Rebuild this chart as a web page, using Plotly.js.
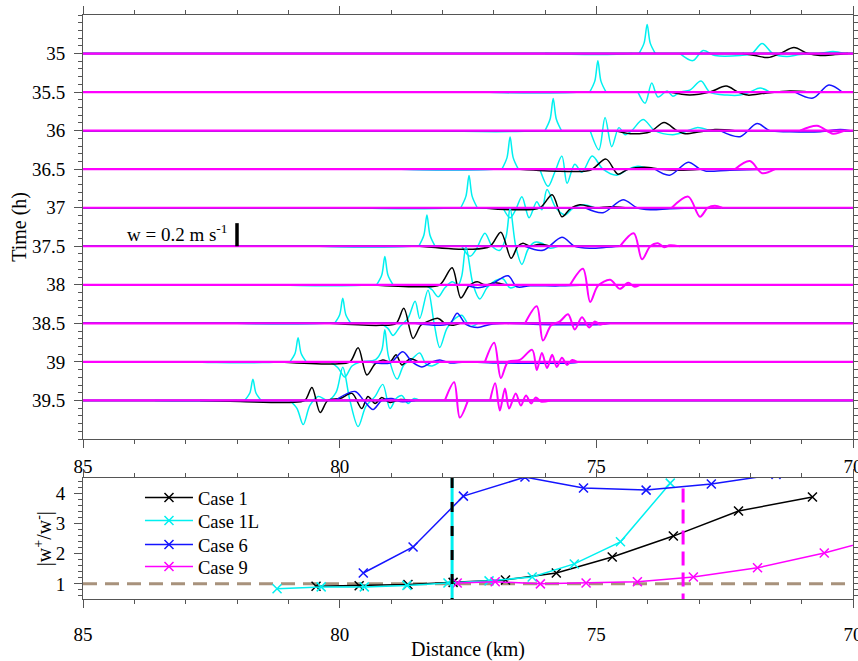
<!DOCTYPE html>
<html><head><meta charset="utf-8">
<script src="https://cdn.plot.ly/plotly-3.0.1.min.js"></script>
<style>html,body{margin:0;padding:0;background:#fff}#chart{width:858px;height:661px}</style>
</head><body><div id="chart"></div>
<script>
// ---------- DATA ----------
const times = [35, 35.5, 36, 36.5, 37, 37.5, 38, 38.5, 39, 39.5];
const timeTickLabels = ['35', '35.5', '36', '36.5', '37', '37.5', '38', '38.5', '39', '39.5'];
const distTicks = [85, 80, 75, 70];
const ratioTicks = [1, 2, 3, 4];
const wScale = 1.5; // hours of offset per 1 m/s of w

// scale bar: w = 0.2 m/s
const scaleBarKm = 82.0, scaleBarW = 0.2, scaleBarT = 37.5;

// [distance km, w m/s] key points of each trace at each time
const case1LWaves = [
 [[76.0,0],[75.5,-0.006],[74.6,-0.006],[74.3,0],[74.17,0],[74.07,0.09],[74.01,0.252],[73.95,0.09],[73.85,0],[73.37,0],[73.12,-0.061],[72.92,0.026],[72.69,-0.017],[72.20,-0.017],[71.97,0],[71.77,0.087],[71.56,0],[71.29,-0.026],[71.03,-0.009],[70.64,0],[70.39,0.017],[70.16,0]],
 [[77.2,0],[76.8,-0.006],[75.6,-0.006],[75.3,0],[75.13,0],[75.03,0.095],[74.97,0.27],[74.91,0.095],[74.81,0],[74.19,0],[74.05,-0.096],[73.92,0.078],[73.80,-0.043],[73.62,0.009],[73.51,-0.035],[73.37,0],[73.18,0.017],[72.96,0.096],[72.79,0],[72.45,-0.026],[72.20,-0.026],[72.01,0],[71.81,0.035],[71.62,0]],
 [[78.0,0],[77.6,-0.006],[76.4,-0.006],[76.1,0],[76.0,0],[75.9,0.1],[75.84,0.278],[75.78,0.1],[75.68,0],[75.12,0],[74.95,-0.165],[74.83,0.113],[74.70,-0.139],[74.56,0.026],[74.44,-0.035],[74.31,0],[74.09,0.096],[73.86,0],[73.51,-0.035],[73.27,-0.009],[73.04,0.026],[72.79,0]],
 [[78.8,0],[78.4,-0.006],[77.3,-0.006],[77.0,0],[76.84,0],[76.74,0.1],[76.68,0.278],[76.62,0.1],[76.52,0],[76.10,0],[75.94,-0.148],[75.81,-0.026],[75.67,0.113],[75.57,-0.122],[75.42,0.043],[75.28,-0.026],[75.08,0.113],[74.87,0],[74.60,-0.052],[74.38,0],[74.19,0.026],[73.95,0]],
 [[79.6,0],[79.2,-0.006],[78.1,-0.006],[77.8,0],[77.64,0],[77.54,0.1],[77.48,0.278],[77.42,0.1],[77.32,0],[76.82,0],[76.68,-0.087],[76.57,-0.017],[76.45,0.096],[76.31,-0.087],[76.16,0.052],[76.06,-0.017],[75.96,0.157],[75.79,0],[75.61,-0.061],[75.47,-0.009],[75.26,0.026],[75.03,0]],
 [[80.4,0],[80.0,-0.006],[78.9,-0.006],[78.6,0],[78.46,0],[78.36,0.095],[78.30,0.27],[78.24,0.095],[78.14,0],[77.62,0],[77.46,-0.087],[77.34,-0.026],[77.17,0.113],[77.03,0],[76.88,-0.035],[76.76,0.08],[76.68,0.33],[76.57,0],[76.45,-0.157],[76.33,-0.026],[76.20,0.035],[76.06,0.026],[75.90,-0.017],[75.75,0]],
 [[81.2,0],[80.8,-0.006],[79.7,-0.006],[79.4,0],[79.28,0],[79.18,0.085],[79.12,0.244],[79.06,0.085],[78.96,0],[78.34,0],[78.20,-0.043],[78.08,-0.104],[77.95,-0.026],[77.81,0.026],[77.69,0],[77.62,0.08],[77.54,0.33],[77.40,0],[77.27,-0.122],[77.13,-0.026],[76.97,0.035],[76.82,0.052],[76.68,-0.026],[76.53,0]],
 [[82.0,0],[81.6,-0.006],[80.6,-0.006],[80.3,0],[80.10,0],[80.0,0.075],[79.94,0.217],[79.88,0.075],[79.78,0],[79.21,0],[79.06,-0.043],[78.96,-0.104],[78.82,-0.026],[78.67,0.043],[78.53,0.191],[78.44,0.043],[78.28,0.287],[78.16,0],[78.05,-0.209],[77.91,-0.043],[77.75,0.043],[77.62,0.07],[77.46,-0.026],[77.31,0]],
 [[82.8,0],[82.4,-0.006],[81.5,-0.006],[81.2,0],[80.97,0],[80.87,0.072],[80.81,0.209],[80.75,0.072],[80.65,0],[80.19,0],[80.03,-0.052],[79.90,-0.13],[79.76,-0.035],[79.60,0],[79.30,0.02],[79.18,0.1],[79.12,0.278],[79.05,0.05],[78.88,-0.148],[78.75,-0.026],[78.59,0.026],[78.44,0.078],[78.32,-0.017],[78.20,-0.035],[78.05,0]],
 [[83.6,0],[83.2,-0.004],[82.3,-0.004],[82.0,0],[81.85,0],[81.75,0.064],[81.69,0.183],[81.63,0.064],[81.53,0],[80.97,0],[80.83,-0.07],[80.71,-0.209],[80.58,-0.043],[80.42,0.035],[80.23,0],[80.07,0.07],[79.94,0.287],[79.80,0],[79.64,-0.226],[79.49,-0.052],[79.31,0.035],[79.16,0.139],[79.02,-0.07],[78.90,0.017],[78.79,0.043],[78.67,-0.026],[78.55,0.017],[78.44,0]]
];
const case1Waves = [
 [[72.15,0],[71.91,-0.017],[71.66,-0.035],[71.42,0],[71.15,0.052],[70.88,0],[70.64,-0.017],[70.35,-0.009],[70.1,0]],
 [[73.57,0],[73.18,-0.026],[72.79,0],[72.47,0.052],[72.24,0],[72.05,-0.026],[71.71,-0.009],[71.23,0.009],[70.84,0]],
 [[74.64,0],[74.34,-0.026],[73.95,-0.009],[73.68,0.07],[73.43,0],[73.27,-0.026],[72.98,-0.009],[72.69,0.009],[72.30,0]],
 [[76.49,0],[75.71,-0.017],[75.12,-0.009],[74.81,0.087],[74.58,-0.043],[74.38,0],[74.05,0.017],[73.76,0],[73.37,-0.009],[72.98,0]],
 [[77.27,0],[76.68,-0.017],[76.10,0],[75.86,0.113],[75.67,-0.078],[75.51,-0.009],[75.32,0.026],[75.03,0],[74.73,0.009],[74.44,0]],
 [[78.44,0],[77.46,-0.026],[77.07,0],[76.86,0.122],[76.66,-0.104],[76.53,0],[76.43,0.026],[76.29,0],[76.10,0.017],[75.90,0]],
 [[79.41,0],[78.44,-0.017],[78.05,0],[77.81,0.148],[77.64,-0.113],[77.48,-0.009],[77.32,0.026],[77.17,0],[76.97,0.017],[76.78,0]],
 [[80.19,0],[79.21,-0.017],[78.90,0],[78.75,0.13],[78.57,-0.13],[78.42,-0.017],[78.28,0.017],[78.08,0.043],[77.95,0],[77.81,-0.017],[77.66,0]],
 [[81.16,0],[80.09,-0.017],[79.80,0],[79.64,0.122],[79.47,-0.113],[79.31,-0.017],[79.16,0.017],[79.02,0],[78.90,0.061],[78.79,-0.026],[78.63,0.026],[78.47,0]],
 [[82.72,0],[81.94,-0.009],[80.97,-0.017],[80.68,0],[80.54,0.113],[80.38,-0.104],[80.23,0],[79.99,0.017],[79.76,0.061],[79.57,-0.07],[79.45,0.035],[79.31,-0.026],[79.18,0.026],[79.02,-0.017],[78.82,0.009],[78.63,0]]
];
const case6Waves = [
 [],
 [[71.13,0],[70.78,-0.052],[70.47,0.061],[70.21,0]],
 [[72.59,0],[72.20,-0.052],[71.87,0.061],[71.62,0],[71.23,-0.009],[70.64,-0.009],[70.25,0.009],[70.05,0]],
 [[73.86,0],[73.57,-0.052],[73.21,0.061],[72.98,0],[72.86,-0.017],[72.40,-0.009],[71.62,0]],
 [[75.22,0],[74.87,-0.043],[74.48,0.07],[74.21,0],[73.95,-0.017],[73.57,-0.009],[72.98,0]],
 [[76.39,0],[76.04,-0.035],[75.67,0.078],[75.42,0],[75.12,-0.017],[74.81,-0.009],[74.54,0]],
 [[77.56,0],[77.31,-0.026],[77.07,0],[76.72,0.078],[76.55,-0.017],[76.29,-0.009],[75.71,-0.009],[75.12,0]],
 [[78.53,0],[78.05,-0.017],[77.85,0],[77.71,0.087],[77.54,-0.009],[77.31,-0.035],[77.07,-0.009],[76.78,0],[76.10,-0.009],[74.93,-0.009],[74.73,0]],
 [[79.41,0],[79.02,-0.009],[78.77,0.087],[78.59,0],[78.40,-0.043],[78.20,0],[78.05,0.017],[77.85,-0.009],[77.56,0],[76.88,-0.009],[75.51,-0.009],[75.32,0]],
 [[80.09,0],[79.70,0.078],[79.53,0],[79.35,-0.078],[79.18,0],[78.98,0.017],[78.82,-0.009],[78.53,0]]
];
const case9Waves = [
 [],
 [],
 [[71.03,0],[70.70,0.043],[70.39,-0.026],[70.16,0]],
 [[72.30,0],[72.01,0.07],[71.77,-0.035],[71.52,0]],
 [[73.53,0],[73.21,0.096],[72.98,-0.078],[72.83,0],[72.69,0.017],[72.55,0]],
 [[74.54,0],[74.27,0.113],[74.11,-0.113],[73.95,0],[73.80,0.026],[73.68,-0.009],[73.57,0.009],[73.37,0]],
 [[75.51,0],[75.26,0.139],[75.12,-0.148],[74.97,-0.009],[74.73,0.043],[74.54,-0.035],[74.38,0.017],[74.25,-0.017],[74.15,0]],
 [[76.39,0],[76.16,0.148],[76.04,-0.148],[75.88,-0.017],[75.71,0.017],[75.55,0.078],[75.42,-0.052],[75.28,0.052],[75.14,-0.035],[75.03,0.017],[74.93,-0.009],[74.81,0]],
 [[77.17,0],[76.99,0.165],[76.86,-0.139],[76.72,0],[76.49,0.017],[76.25,0.104],[76.16,-0.07],[76.06,0.078],[75.96,-0.052],[75.86,0.061],[75.77,-0.043],[75.67,0.035],[75.57,-0.026],[75.47,0.017],[75.38,0]],
 [[77.95,0],[77.77,0.157],[77.66,-0.148],[77.50,0],[77.07,0],[76.97,0.148],[76.88,-0.087],[76.78,0.104],[76.70,-0.07],[76.57,0.061],[76.47,-0.043],[76.37,0.043],[76.27,-0.026],[76.18,0.026],[76.08,-0.009],[75.90,0]]
];

// lower panel |w+/w-|
const distCase1  = [80.46, 79.62, 78.67, 77.79, 76.77, 75.78, 74.69, 73.50, 72.23, 70.79];
const ratioCase1 = [0.92, 0.94, 0.98, 1.05, 1.13, 1.36, 1.89, 2.58, 3.41, 3.87];
const distCase1L  = [81.22, 80.36, 79.52, 78.69, 77.89, 77.09, 76.25, 75.43, 74.53, 73.56];
const ratioCase1L = [0.84, 0.90, 0.90, 0.95, 1.03, 1.10, 1.23, 1.66, 2.39, 4.33];
const distCase6  = [79.54, 78.57, 77.59, 76.39, 75.25, 74.03, 72.76, 71.5];
const ratioCase6 = [1.36, 2.22, 3.90, 4.53, 4.17, 4.10, 4.30, 4.62];
const distCase9  = [77.71, 76.97, 76.09, 75.20, 74.20, 73.11, 71.86, 70.56, 69.3];
const ratioCase9 = [1.03, 1.07, 1.00, 1.03, 1.07, 1.23, 1.53, 2.02, 2.6];
const refRatio = 1;
const critDistCase1 = 77.81;   // black / cyan vertical line
const critDistCase9 = 73.31;   // magenta vertical line
const critTopCase9 = 4.15;
const caseNames = ['Case 1', 'Case 1L', 'Case 6', 'Case 9'];

// ---------- STYLE ----------
const FONT = 'Liberation Serif, Times New Roman, serif';
const COL = {c1: '#000000', c1L: '#00f0f0', c6: '#1414ff', c9: '#ff00ff'};
const AX = '#555555';

const traces = [];
function baseTrace(t, color, width) {
  return {x: [85, 70], y: [t, t], xaxis: 'x', yaxis: 'y', type: 'scatter', mode: 'lines',
          line: {color, width}, showlegend: false, hoverinfo: 'skip'};
}
function waveTrace(pts, t, color, width) {
  // smooth each wave packet separately; the flat baseline is drawn by baseTrace
  const x = [], y = [];
  pts.forEach((p, k) => {
    if (k > 0 && p[1] === 0 && pts[k - 1][1] === 0) { x.push(null); y.push(null); }
    x.push(p[0]); y.push(t - p[1] * wScale);
  });
  return {x, y, xaxis: 'x', yaxis: 'y', type: 'scatter', mode: 'lines', connectgaps: false,
          line: {color, width, shape: 'spline', smoothing: 0.9}, showlegend: false, hoverinfo: 'skip'};
}
times.forEach((t, i) => {
  traces.push(baseTrace(t, COL.c1L, 1.5), waveTrace(case1LWaves[i], t, COL.c1L, 1.5));
  traces.push(baseTrace(t, COL.c1, 1.5), waveTrace(case1Waves[i], t, COL.c1, 1.5));
  traces.push(baseTrace(t, COL.c6, 1.5), waveTrace(case6Waves[i], t, COL.c6, 1.5));
});
times.forEach((t, i) => traces.push(baseTrace(t, COL.c9, 2.2), waveTrace(case9Waves[i], t, COL.c9, 2)));

// scale bar
traces.push({x: [scaleBarKm, scaleBarKm], y: [scaleBarT, scaleBarT - scaleBarW * wScale],
  xaxis: 'x', yaxis: 'y', mode: 'lines', line: {color: '#000', width: 3.5}, showlegend: false, hoverinfo: 'skip'});

// lower panel
traces.push({x: [85, 70], y: [refRatio, refRatio], xaxis: 'x2', yaxis: 'y2', mode: 'lines',
  line: {color: '#a8927c', width: 3, dash: '14px,8px'}, showlegend: false, hoverinfo: 'skip'});
function caseTrace(x, y, name, color, legendId) {
  return {x, y, name, legend: legendId, xaxis: 'x2', yaxis: 'y2', type: 'scatter', mode: 'lines+markers',
    line: {color, width: 1.5}, marker: {symbol: 'x-thin', size: 9, color, line: {color, width: 1.5}}};
}
traces.push(caseTrace(distCase1, ratioCase1, caseNames[0], COL.c1, 'legend'));
traces.push(caseTrace(distCase1L, ratioCase1L, caseNames[1], COL.c1L, 'legend2'));
traces.push(caseTrace(distCase6, ratioCase6, caseNames[2], COL.c6, 'legend3'));
traces.push(caseTrace(distCase9, ratioCase9, caseNames[3], COL.c9, 'legend4'));
traces.push({x: [critDistCase1, critDistCase1], y: [0.5, 4.5], xaxis: 'x2', yaxis: 'y2', mode: 'lines',
  line: {color: COL.c1L, width: 3}, showlegend: false, hoverinfo: 'skip'});
traces.push({x: [critDistCase1, critDistCase1], y: [4.5, 0.5], xaxis: 'x2', yaxis: 'y2', mode: 'lines',
  line: {color: '#000', width: 3, dash: '10px,14px'}, showlegend: false, hoverinfo: 'skip'});
traces.push({x: [critDistCase9, critDistCase9], y: [critTopCase9, 0.5], xaxis: 'x2', yaxis: 'y2', mode: 'lines',
  line: {color: COL.c9, width: 3, dash: '14px,7px'}, showlegend: false, hoverinfo: 'skip'});

const tickFont = {family: FONT, size: 19, color: '#000'};
function xAxis(anchor, title, standoff) {
  const a = {anchor, domain: [0, 1], range: [85, 70], tickmode: 'array', tickvals: distTicks,
    ticks: 'outside', ticklen: 8, tickwidth: 1, tickcolor: AX, showline: true, linecolor: AX, linewidth: 1,
    mirror: 'allticks', showgrid: false, zeroline: false, tickfont: tickFont, ticklabelstandoff: standoff,
    ticklabeloverflow: 'allow',
    minor: {tickmode: 'linear', tick0: 70, dtick: 1, ticks: 'outside', ticklen: 4, tickcolor: AX, showgrid: false}};
  if (title) a.title = {text: title, font: {family: FONT, size: 20, color: '#000'}, standoff: 4};
  return a;
}
function legendAt(yCenter) {
  return {x: 0.074, y: yCenter, xanchor: 'left', yanchor: 'middle', bgcolor: 'rgba(0,0,0,0)',
    font: {family: FONT, size: 18.5, color: '#000'}, itemwidth: 48};
}
const yTitleFont = {family: FONT, size: 20, color: '#000'};
const layout = {
  width: 858, height: 661, paper_bgcolor: '#fff', plot_bgcolor: '#fff',
  margin: {l: 83, r: 5, t: 15, b: 62},
  showlegend: true,
  xaxis: xAxis('y', null, 2),
  xaxis2: xAxis('y2', 'Distance (km)', 10),
  yaxis: {anchor: 'x', domain: [0.27397, 1], range: [40, 34.5], tickmode: 'array', tickvals: times, ticktext: timeTickLabels,
    ticks: 'outside', ticklen: 8, tickwidth: 1, tickcolor: AX, showline: true, linecolor: AX, linewidth: 1,
    mirror: 'allticks', showgrid: false, zeroline: false, tickfont: tickFont, ticklabelstandoff: 5,
    minor: {tickmode: 'linear', tick0: 35, dtick: 0.1, ticks: 'outside', ticklen: 4, tickcolor: AX, showgrid: false}},
  yaxis2: {anchor: 'x2', domain: [0, 0.20719], range: [0.5, 4.5], tickmode: 'array', tickvals: ratioTicks,
    ticks: 'outside', ticklen: 8, tickwidth: 1, tickcolor: AX, showline: true, linecolor: AX, linewidth: 1,
    mirror: 'allticks', showgrid: false, zeroline: false, tickfont: tickFont, ticklabelstandoff: 5,
    minor: {tickmode: 'linear', tick0: 0, dtick: 0.2, ticks: 'outside', ticklen: 4, tickcolor: AX, showgrid: false}},
  legend: legendAt(0.1729),
  legend2: legendAt(0.1336),
  legend3: legendAt(0.0925),
  legend4: legendAt(0.0548),
  annotations: [
    {xref: 'x', yref: 'y', x: 82.16, y: 37.33, xanchor: 'right', yanchor: 'middle', showarrow: false,
     text: 'w = 0.2 m s<sup>-1</sup>', font: {family: FONT, size: 19, color: '#000'}},
    {xref: 'paper', yref: 'paper', x: -0.082, y: 0.637, xanchor: 'center', yanchor: 'middle', textangle: -90,
     showarrow: false, text: 'Time (h)', font: yTitleFont},
    {xref: 'paper', yref: 'paper', x: -0.052, y: 0.104, xanchor: 'center', yanchor: 'middle', textangle: -90,
     showarrow: false, text: '|w<sup>+</sup>/w<sup>-</sup>|', font: yTitleFont}
  ]
};
Plotly.newPlot('chart', traces, layout, {displayModeBar: false, staticPlot: true});
</script></body></html>
